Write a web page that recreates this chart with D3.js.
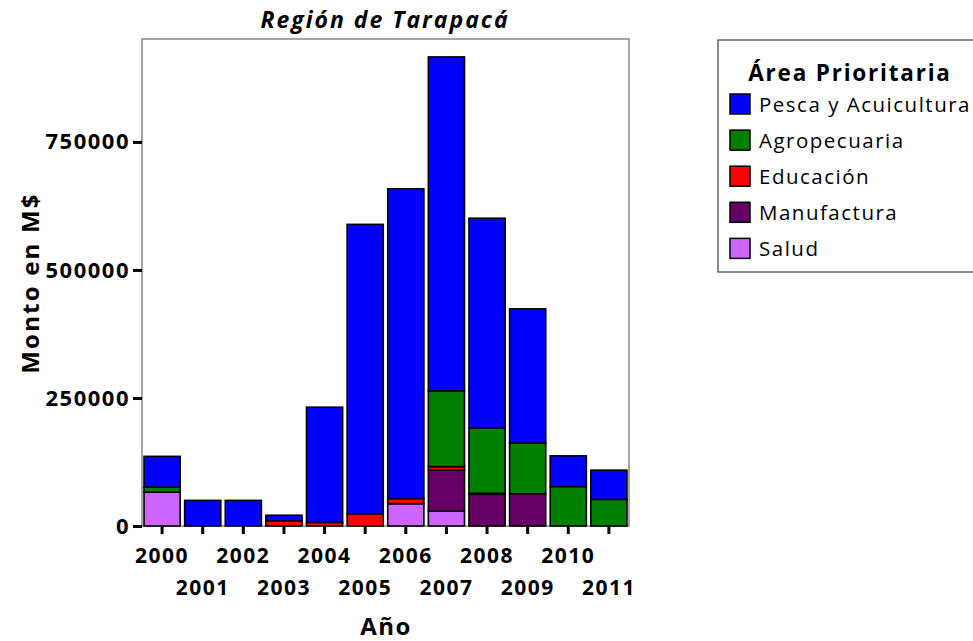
<!DOCTYPE html>
<html><head><meta charset="utf-8">
<script src="https://cdn.jsdelivr.net/npm/d3@7"></script>
<style>
body{margin:0;background:#fff;}
text{font-family:"Open Sans",sans-serif;}
</style></head>
<body>
<svg id="chart" width="973" height="641"></svg>
<script>
const years = ["2000","2001","2002","2003","2004","2005","2006","2007","2008","2009","2010","2011"];
const seriesNames = ["Salud","Manufactura","Educación","Agropecuaria","Pesca y Acuicultura"];
const salud        = [66000,0,0,0,0,0,43500,29000,0,0,0,0];
const manufactura  = [0,0,0,0,0,0,0,80000,62000,63000,0,0];
const educacion    = [0,0,0,10000,7000,24000,10000,7000,2000,0,0,0];
const agropecuaria = [10000,0,0,0,0,0,0,148000,127000,99000,77000,52000];
const pesca        = [60000,50000,50000,11000,225000,565000,605000,652000,410000,262000,60000,57000];
const yTicks = [0,250000,500000,750000];
const legendOrder = ["Pesca y Acuicultura","Agropecuaria","Educación","Manufactura","Salud"];
const colors = {"Pesca y Acuicultura":"#0000ff","Agropecuaria":"#008000","Educación":"#ff0000","Manufactura":"#660066","Salud":"#cc66ff"};
const seriesValues = [salud, manufactura, educacion, agropecuaria, pesca];

const table = years.map((y,i)=>{
  const row={year:y};
  seriesNames.forEach((s,j)=>row[s]=seriesValues[j][i]);
  return row;
});

const svg = d3.select("#chart");
const L=142, R=629, T=39, B=526;
const x = d3.scaleBand().domain(years).range([L,R]).paddingInner(0.11).paddingOuter(0.05);
const y = d3.scaleLinear().domain([0,951000]).range([B,T]);

const stack = d3.stack().keys(seriesNames)(table);

// frame
svg.append("rect").attr("x",L).attr("y",T).attr("width",R-L).attr("height",B-T)
  .attr("fill","#fff").attr("stroke","#888").attr("stroke-width",1.5);

// bars
svg.append("g").selectAll("g").data(stack).join("g")
  .attr("fill",d=>colors[d.key])
  .selectAll("rect").data(d=>d.filter(p=>p[1]-p[0]>0)).join("rect")
  .attr("x",d=>x(d.data.year)).attr("width",x.bandwidth())
  .attr("y",d=>y(d[1])).attr("height",d=>y(d[0])-y(d[1]))
  .attr("stroke","#000").attr("stroke-width",1.6);

// y axis
const yAxis = svg.append("g").attr("transform",`translate(${L},0)`)
  .call(d3.axisLeft(y).tickValues(yTicks).tickSize(9).tickPadding(3).tickFormat(d3.format("d")));
yAxis.select(".domain").remove();
yAxis.selectAll(".tick line").attr("stroke","#000").attr("stroke-width",3);
yAxis.selectAll(".tick text").attr("font-size",22).attr("font-weight","bold")
  .attr("font-family","'Open Sans',sans-serif").attr("fill","#000").attr("letter-spacing","1.5px");

// x axis
const xAxis = svg.append("g").attr("transform",`translate(0,${B})`)
  .call(d3.axisBottom(x).tickSize(8).tickFormat(""));
xAxis.select(".domain").remove();
xAxis.selectAll(".tick line").attr("stroke","#000").attr("stroke-width",3);
svg.append("g").selectAll("text").data(years).join("text")
  .attr("x",d=>x(d)+x.bandwidth()/2)
  .attr("y",(d,i)=> i%2===0 ? 563 : 595)
  .attr("text-anchor","middle").attr("font-size",21).attr("font-weight","bold")
  .attr("letter-spacing","1.5px").text(d=>d);

// titles
svg.append("text").attr("x",385).attr("y",28).attr("text-anchor","middle")
  .attr("font-size",23).attr("font-weight","bold").attr("font-style","italic")
  .attr("letter-spacing","2px").text("Región de Tarapacá");
svg.append("text").attr("x",386).attr("y",635).attr("text-anchor","middle")
  .attr("font-size",24).attr("font-weight","bold").attr("letter-spacing","1.5px").text("Año");
svg.append("text").attr("transform","translate(39,283) rotate(-90)").attr("text-anchor","middle")
  .attr("font-size",24).attr("font-weight","bold").attr("letter-spacing","2.2px").text("Monto en M$");

// legend
const lg = svg.append("g");
lg.append("rect").attr("x",718).attr("y",40).attr("width",300).attr("height",232)
  .attr("fill","#fff").attr("stroke","#666").attr("stroke-width",1.5);
lg.append("text").attr("x",850).attr("y",81).attr("text-anchor","middle")
  .attr("font-size",22.5).attr("font-weight","bold").attr("letter-spacing","1.8px").text("Área Prioritaria");
const items = lg.selectAll("g.item").data(legendOrder).join("g").attr("class","item")
  .attr("transform",(d,i)=>`translate(730,${104 + i*36.1})`);
items.append("rect").attr("x",0).attr("y",-10).attr("width",20).attr("height",20)
  .attr("fill",d=>colors[d]).attr("stroke","#000").attr("stroke-width",1.5);
items.append("text").attr("x",29).attr("y",7.5).attr("font-size",20.5)
  .attr("letter-spacing","1.5px").text(d=>d);
</script>
</body></html>
